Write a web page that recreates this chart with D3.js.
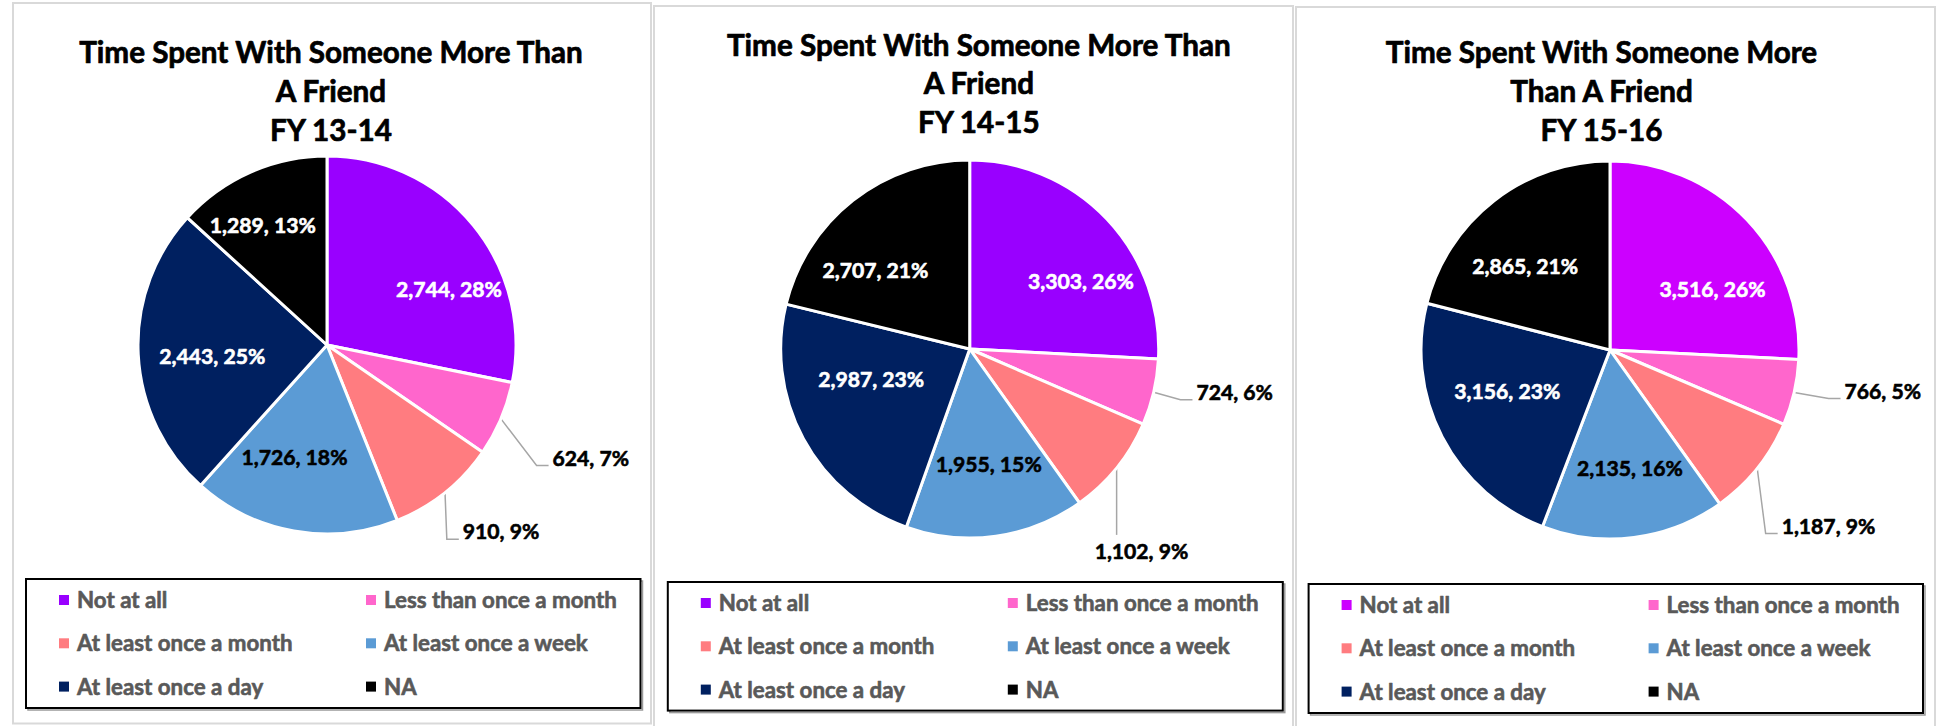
<!DOCTYPE html>
<html><head><meta charset="utf-8">
<script src="https://cdn.jsdelivr.net/npm/d3@7"></script>
<style>html,body{margin:0;padding:0;background:#fff;} svg{display:block;}</style>
</head><body>
<svg id="chart" width="1939" height="726"></svg>
<script>
// ---------- DATA ----------
const categories = ["Not at all","Less than once a month","At least once a month","At least once a week","At least once a day","NA"];
const values1314 = [2744, 624, 910, 1726, 2443, 1289];
const values1415 = [3303, 724, 1102, 1955, 2987, 2707];
const values1516 = [3516, 766, 1187, 2135, 3156, 2865];
const pct1314 = [28, 7, 9, 18, 25, 13];
const pct1415 = [26, 6, 9, 15, 23, 21];
const pct1516 = [26, 5, 9, 16, 23, 21];
const title1314 = ["Time Spent With Someone More Than", "A Friend", "FY 13-14"];
const title1415 = ["Time Spent With Someone More Than", "A Friend", "FY 14-15"];
const title1516 = ["Time Spent With Someone More", "Than A Friend", "FY 15-16"];

// ---------- STYLE / LAYOUT ----------
const colorsA = ["#9900FF","#FF66CC","#FF7C80","#5B9BD5","#002060","#000000"];
const colorsB = ["#CC00FF","#FF66CC","#FF7C80","#5B9BD5","#002060","#000000"];
const labelColors = ["#FFFFFF","#000000","#000000","#000000","#FFFFFF","#FFFFFF"];
const FONT = "Lato, 'Open Sans', sans-serif";

const charts = [
  {values: values1314, pct: pct1314, title: title1314, colors: colorsA,
   panel:[13,3,638,720.5], cx:327, cy:345, r:189, titleX:331, titleY:63.4, legend:[26,579,614.5,129],
   inside:{0:[14.6,0.71],3:[6,0.62],4:[-3,0.61],5:[-4.3,0.72]}, outside:{1:[51.6,39.2],2:[17.8,39]}},
  {values: values1415, pct: pct1415, title: title1415, colors: colorsA,
   panel:[654,6,639,730], cx:969.7, cy:349, r:189, titleX:978.8, titleY:55.5, legend:[667.8,582,615,128.6],
   inside:{0:[12,0.69],3:[-1.4,0.62],4:[11.3,0.545],5:[-12,0.65]}, outside:{1:[42.8,0],2:[-22,83]}},
  {values: values1516, pct: pct1516, title: title1516, colors: colorsB,
   panel:[1296,7,639,730], cx:1610, cy:350, r:189, titleX:1601.5, titleY:63.4, legend:[1308.6,584,614.4,129],
   inside:{0:[13,0.63],3:[-2.3,0.635],4:[5.6,0.585],5:[-7.6,0.63]}, outside:{1:[50.4,-1.5],2:[24.4,57.6]}}
];

const svg = d3.select("#chart");

function fitSize(text, target){
  const t = svg.append("text").attr("font-family", FONT).attr("font-weight", 700)
    .attr("font-size", 100).text(text);
  const w = t.node().getComputedTextLength();
  t.remove();
  return 100 * target / w;
}
const titleSize = fitSize("Time Spent With Someone More Than", 504);
const labelSize = fitSize("2,744, 28%", 106);
const legendSize = fitSize("Less than once a month", 233);
const fmt = d3.format(",");

function heavy(sel, color, w){
  return sel.attr("fill", color).attr("stroke", color).attr("stroke-width", w)
    .attr("stroke-linejoin", "round").attr("paint-order", "stroke");
}

charts.forEach(ch => {
  const g = svg.append("g");
  const [px, py, pw, ph] = ch.panel;
  g.append("rect").attr("x", px).attr("y", py).attr("width", pw).attr("height", ph)
    .attr("fill", "#fff").attr("stroke", "#d9d9d9").attr("stroke-width", 2);

  // title
  ch.title.forEach((line, i) => {
    heavy(g.append("text").attr("x", ch.titleX).attr("y", ch.titleY + i * 38.9)
      .attr("text-anchor", "middle").attr("font-family", FONT).attr("font-weight", 700)
      .attr("font-size", titleSize).text(line), "#000", 0.7);
  });

  // pie
  const pie = d3.pie().sort(null).value(d => d);
  const arcs = pie(ch.values);
  const arc = d3.arc().innerRadius(0).outerRadius(ch.r);
  const pg = g.append("g").attr("transform", `translate(${ch.cx},${ch.cy})`);
  pg.selectAll("path").data(arcs).join("path")
    .attr("d", arc).attr("fill", (d, i) => ch.colors[i])
    .attr("stroke", "#fff").attr("stroke-width", 3).attr("stroke-linejoin", "round");

  // labels
  arcs.forEach((d, i) => {
    const txt = fmt(ch.values[i]) + ", " + ch.pct[i] + "%";
    const mid = (d.startAngle + d.endAngle) / 2;
    if (ch.inside[i]) {
      const [shift, k] = ch.inside[i];
      const a = mid + shift * Math.PI / 180;
      heavy(g.append("text").attr("x", ch.cx + k * ch.r * Math.sin(a)).attr("y", ch.cy - k * ch.r * Math.cos(a))
        .attr("dy", "0.36em").attr("text-anchor", "middle")
        .attr("font-family", FONT).attr("font-weight", 700).attr("font-size", labelSize)
        .text(txt), labelColors[i], 0.6);
    } else if (ch.outside[i]) {
      const [dx, dy] = ch.outside[i];
      const ex = ch.cx + ch.r * Math.sin(mid), ey = ch.cy - ch.r * Math.cos(mid);
      const lx = ex + dx, lcy = ey + dy;
      const t = heavy(g.append("text").attr("x", lx).attr("y", lcy).attr("dy", "0.36em")
        .attr("text-anchor", "start").attr("font-family", FONT).attr("font-weight", 700)
        .attr("font-size", labelSize).text(txt), "#000", 0.6);
      const w = t.node().getComputedTextLength();
      const x0 = lx - 4, x1 = lx + w + 4;
      let pts;
      if (ex >= x0 && ex <= x1) {
        pts = [[ex, ey], [ex, lcy - 16]];
      } else {
        pts = [[ex, ey], [x0 - 12, lcy + 7.5], [x0, lcy + 7.5]];
      }
      g.insert("path", "text").attr("d", d3.line()(pts)).attr("fill", "none")
        .attr("stroke", "#a6a6a6").attr("stroke-width", 1.5);
    }
  });

  // legend
  const [lx, ly, lw, lh] = ch.legend;
  g.append("rect").attr("x", lx + 2).attr("y", ly + 2).attr("width", lw).attr("height", lh)
    .attr("fill", "none").attr("stroke", "#9a9a9a").attr("stroke-width", 1.5);
  g.append("rect").attr("x", lx).attr("y", ly).attr("width", lw).attr("height", lh)
    .attr("fill", "#fff").attr("stroke", "#000").attr("stroke-width", 2);
  categories.forEach((c, i) => {
    const col = i % 2, row = Math.floor(i / 2);
    const mx = lx + (col === 0 ? 38 : 345), my = ly + 21 + row * 43.3;
    g.append("rect").attr("x", mx - 5).attr("y", my - 5).attr("width", 10).attr("height", 10)
      .attr("fill", ch.colors[i]);
    heavy(g.append("text").attr("x", mx + 13).attr("y", my).attr("dy", "0.36em")
      .attr("font-family", FONT).attr("font-weight", 700).attr("font-size", legendSize)
      .text(c), "#595959", 0.6);
  });
});
</script>
</body></html>
